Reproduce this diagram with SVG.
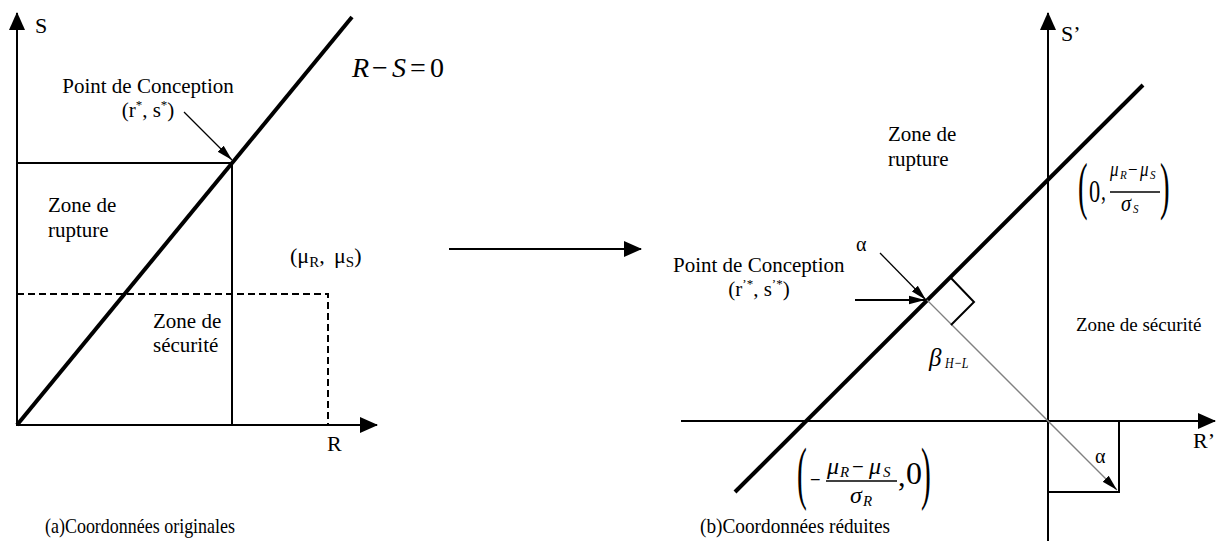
<svg xmlns="http://www.w3.org/2000/svg" width="1230" height="549" viewBox="0 0 1230 549" font-family="'Liberation Serif', 'Times New Roman', serif">
<defs>
<style>
text{font-family:"Liberation Serif","Times New Roman",serif;fill:#000}
.lbl{font-size:21px}
.ax-t{font-size:22px}
.cap{font-size:21px}
.it{font-style:italic}
.ax{stroke:#000;stroke-width:2;fill:none}
.thick{stroke:#000;stroke-width:4;fill:none}
.dash{stroke:#000;stroke-width:2;fill:none;stroke-dasharray:7 4}
.thin{stroke:#000;stroke-width:1.3;fill:none}
.gray{stroke:#808080;stroke-width:1.3;fill:none}
.bar{stroke:#000;stroke-width:1.5;fill:none}
</style>
<marker id="ah" markerUnits="userSpaceOnUse" markerWidth="18" markerHeight="16" refX="17" refY="8" orient="auto" viewBox="0 0 18 16"><path d="M0,0 L18,8 L0,16 z" fill="#000"/></marker>
<marker id="sm" markerUnits="userSpaceOnUse" markerWidth="16" markerHeight="10" refX="16" refY="5" orient="auto" viewBox="0 0 16 10"><path d="M0,0.8 L16,5 L0,9.2 z" fill="#000"/></marker>
</defs>
<rect width="1230" height="549" fill="#fff"/>

<!-- Left panel -->
<g id="left-axes">
<path class="ax" d="M17,426 V13" marker-end="url(#ah)"/>
<path class="ax" d="M16,425 H377" marker-end="url(#ah)"/>
<text class="ax-t" x="35" y="33">S</text>
<text class="ax-t" x="327" y="451">R</text>
</g>
<g id="left-limit-line">
<path class="thick" d="M17,425 L352,17"/>
<text font-size="28" y="77"><tspan class="it" x="352">R</tspan><tspan x="372">−</tspan><tspan class="it" x="392">S</tspan><tspan x="410">=</tspan><tspan x="430">0</tspan></text>
</g>
<g id="left-design-point">
<path class="ax" d="M17,163 H232 V425"/>
<path class="thin" d="M184,112 L232,160" marker-end="url(#sm)"/>
<text class="lbl" x="148" y="93" text-anchor="middle">Point de Conception</text>
<text class="lbl" x="148" y="117" text-anchor="middle">(r<tspan font-size="13" dy="-8">*</tspan><tspan dy="8">, s</tspan><tspan font-size="13" dy="-8">*</tspan><tspan dy="8">)</tspan></text>
</g>
<g id="left-mean-point">
<path class="dash" d="M17,294 H328 V425"/>
<text font-size="22" y="263"><tspan x="290">(μ</tspan><tspan font-size="15" dy="4">R</tspan><tspan dy="-4">,</tspan><tspan x="334">μ</tspan><tspan font-size="15" dy="4">S</tspan><tspan dy="-4">)</tspan></text>
</g>
<g id="left-zone-rupture">
<text class="lbl" x="48" y="212">Zone de</text>
<text class="lbl" x="48" y="237">rupture</text>
</g>
<g id="left-zone-securite">
<text class="lbl" x="153" y="328">Zone de</text>
<text class="lbl" x="153" y="352">sécurité</text>
</g>
<g id="caption-a">
<text class="cap" x="45" y="533" textLength="190" lengthAdjust="spacingAndGlyphs">(a)Coordonnées originales</text>
</g>

<!-- Connector between panels -->
<g id="connectors">
<path class="ax" d="M449,249 H641" marker-end="url(#ah)"/>
</g>

<!-- Right panel -->
<g id="right-axes">
<path class="ax" d="M1048,541 V13" marker-end="url(#ah)"/>
<path class="ax" d="M681,421 H1215" marker-end="url(#ah)"/>
<text class="ax-t" x="1061" y="41">S’</text>
<text class="ax-t" x="1193" y="448">R’</text>
</g>
<g id="right-limit-line">
<path class="thick" d="M735,492 L1143,85"/>
</g>
<g id="right-beta">
<path class="gray" d="M927,300 L1117,490" marker-end="url(#sm)"/>
<path class="thin" d="M880,253 L926,300" marker-end="url(#sm)"/>
<path class="ax" d="M950,277 L974,302 L951,325"/>
<path class="ax" d="M1048,492 H1119 V421"/>
<text font-size="20" x="856" y="251">α</text>
<text font-size="20" x="1095" y="463">α</text>
<text class="it" font-size="25" x="929" y="366">β</text>
<text class="it" font-size="15" transform="translate(945,368) scale(0.8,1)">H−L</text>
</g>
<g id="right-design-point">
<path class="ax" d="M855,300 H925" marker-end="url(#sm)"/>
<text class="lbl" x="673" y="272">Point de Conception</text>
<text class="lbl" x="759" y="296" text-anchor="middle">(r<tspan font-size="13" dy="-8">’*</tspan><tspan dy="8">, s</tspan><tspan font-size="13" dy="-8">’*</tspan><tspan dy="8">)</tspan></text>
</g>
<g id="right-zone-rupture">
<text class="lbl" x="888" y="141">Zone de</text>
<text class="lbl" x="888" y="166">rupture</text>
</g>
<g id="right-zone-securite">
<text font-size="19" x="1076" y="331">Zone de sécurité</text>
</g>
<g id="formula-s-intercept">
<text font-size="64" transform="translate(1078,207) scale(0.45,1)">(</text>
<text font-size="32" transform="translate(1089,202) scale(0.7,1)">0</text>
<text font-size="28" transform="translate(1101,200) scale(0.7,1)">,</text>
<text class="it" font-size="20" transform="translate(1110,176) scale(0.85,1)">μ</text>
<text class="it" font-size="13" transform="translate(1120,179) scale(0.85,1)">R</text>
<text font-size="20" transform="translate(1128,176) scale(0.85,1)">−</text>
<text class="it" font-size="20" transform="translate(1140,176) scale(0.85,1)">μ</text>
<text class="it" font-size="13" transform="translate(1150,179) scale(0.85,1)">S</text>
<path class="bar" d="M1110,192 H1160"/>
<text class="it" font-size="24" transform="translate(1121,211) scale(0.85,1)">σ</text>
<text class="it" font-size="13" transform="translate(1133,213) scale(0.85,1)">S</text>
<text font-size="64" transform="translate(1160,207) scale(0.45,1)">)</text>
</g>
<g id="formula-r-intercept">
<text font-size="70" transform="translate(797,496) scale(0.42,1)">(</text>
<text font-size="22" transform="translate(810,487) scale(0.85,1)">−</text>
<text class="it" font-size="24" x="827" y="474">μ</text>
<text class="it" font-size="15" x="840" y="477">R</text>
<text font-size="22" transform="translate(852,474) scale(0.95,1)">−</text>
<text class="it" font-size="24" x="869" y="474">μ</text>
<text class="it" font-size="15" x="883" y="477">S</text>
<path class="bar" d="M826,481 H897"/>
<text class="it" font-size="24" x="850" y="503">σ</text>
<text class="it" font-size="15" x="863" y="506">R</text>
<text font-size="30" x="898" y="486">,</text>
<text font-size="32" x="906" y="484">0</text>
<text font-size="70" transform="translate(921,496) scale(0.42,1)">)</text>
</g>
<g id="caption-b">
<text class="cap" x="700" y="533" textLength="190" lengthAdjust="spacingAndGlyphs">(b)Coordonnées réduites</text>
</g>
</svg>
